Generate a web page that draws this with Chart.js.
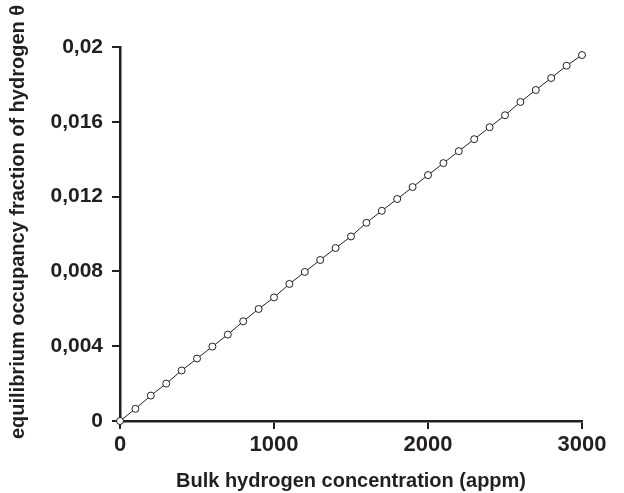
<!DOCTYPE html>
<html lang="en">
<head>
    <meta charset="UTF-8">
    <title>Hydrogen occupancy</title>
    <style>
        body { margin: 0; background: #fff; }
        #wrap { width: 624px; height: 493px; }
    </style>
</head>
<body>
    <div id="wrap"><canvas id="chart" width="624" height="493"></canvas></div>
    <script src="https://cdn.jsdelivr.net/npm/chart.js"></script>
    <script>
// bulk hydrogen concentration (appm)
const concentration = [0, 100, 200, 300, 400, 500, 600, 700, 800, 900, 1000,
    1100, 1200, 1300, 1400, 1500, 1600, 1700, 1800, 1900, 2000,
    2100, 2200, 2300, 2400, 2500, 2600, 2700, 2800, 2900, 3000];
// equilibrium occupancy fraction theta
const occupancy = [0, 0.00065, 0.00136, 0.00200, 0.00270, 0.00334, 0.00398, 0.00462, 0.00533, 0.00599, 0.00661,
    0.00733, 0.00797, 0.00861, 0.00925, 0.00987, 0.01060, 0.01124, 0.01187, 0.01251, 0.01315,
    0.01379, 0.01443, 0.01507, 0.01571, 0.01635, 0.01706, 0.01770, 0.01834, 0.01900, 0.01957];
const xTicks = [0, 1000, 2000, 3000];
const yTicks = [0, 0.004, 0.008, 0.012, 0.016, 0.02];
const yTitle = 'equilibrium occupancy fraction of hydrogen θ';

const ink = '#231f20';
const font = 'Arial, "Liberation Sans", sans-serif';

const points = concentration.map((c, i) => ({ x: c, y: occupancy[i] }));

// y title drawn by hand so it can sit a little above the axis middle, like the original
const yTitlePlugin = {
    id: 'yTitle',
    afterDraw(chart) {
        const ctx = chart.ctx;
        ctx.save();
        ctx.translate(18, 222);
        ctx.rotate(-Math.PI / 2);
        ctx.fillStyle = ink;
        ctx.font = 'bold 20px ' + font;
        ctx.textAlign = 'center';
        ctx.textBaseline = 'middle';
        ctx.fillText(yTitle, 0, 0);
        ctx.restore();
    }
};

new Chart(document.getElementById('chart'), {
    type: 'scatter',
    data: {
        datasets: [{
            data: points,
            showLine: true,
            clip: false,
            borderColor: ink,
            borderWidth: 1,
            pointRadius: 3.5,
            pointBorderWidth: 1,
            pointBackgroundColor: '#fff',
            pointBorderColor: ink
        }]
    },
    plugins: [yTitlePlugin],
    options: {
        responsive: false,
        animation: false,
        layout: { padding: { top: 47, right: 42, left: 0, bottom: 0 } },
        plugins: { legend: { display: false }, tooltip: { enabled: false } },
        scales: {
            x: {
                type: 'linear',
                min: 0, max: 3000,
                afterBuildTicks: s => { s.ticks = xTicks.map(v => ({ value: v })); },
                afterFit: s => { s.height = 72; },
                border: { color: ink, width: 2.5 },
                grid: { drawOnChartArea: false, color: ink, lineWidth: 2, tickLength: 8 },
                ticks: {
                    color: ink, padding: 3, maxRotation: 0,
                    font: { family: font, size: 22, weight: 'bold' },
                    callback: v => String(v)
                },
                title: {
                    display: true,
                    text: 'Bulk hydrogen concentration (appm)',
                    color: ink,
                    padding: { top: 2, bottom: 0 },
                    font: { family: font, size: 20, weight: 'bold' }
                }
            },
            y: {
                type: 'linear',
                min: 0, max: 0.02,
                afterBuildTicks: s => { s.ticks = yTicks.map(v => ({ value: v })); },
                afterFit: s => { s.width = 120; },
                border: { color: ink, width: 2.5 },
                grid: { drawOnChartArea: false, color: ink, lineWidth: 2, tickLength: 8 },
                ticks: {
                    color: ink, padding: 9,
                    font: { family: font, size: 21, weight: 'bold' },
                    callback: v => Number(v.toFixed(3)).toString().replace('.', ',')
                }
            }
        }
    }
});
    </script>
</body>
</html>
